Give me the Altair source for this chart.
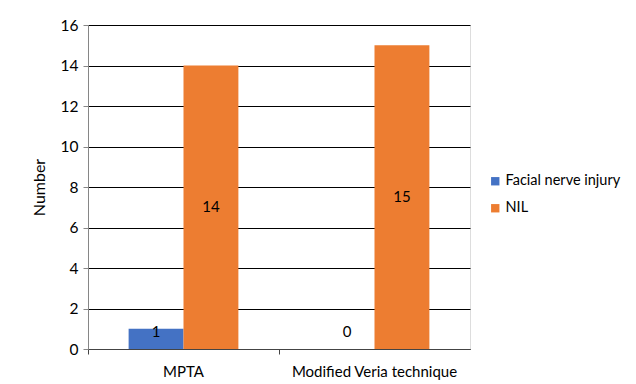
import altair as alt
import pandas as pd

categories = ["MPTA", "Modified Veria technique"]
series = ["Facial nerve injury", "NIL"]
facial_nerve_injury = [1, 0]
nil = [14, 15]
colors = ["#4472C4", "#ED7D31"]

rows = []
for i, c in enumerate(categories):
    for s, vals in zip(series, [facial_nerve_injury, nil]):
        v = vals[i]
        rows.append({"cat": c, "series": s, "value": v, "labelpos": max(v / 2, 0.82)})
df = pd.DataFrame(rows)

FONT = "Lato"

base = alt.Chart(df).encode(
    x=alt.X("cat:N", sort=categories, title=None,
            scale=alt.Scale(paddingInner=0, paddingOuter=0),
            axis=alt.Axis(labelAngle=0, bandPosition=0, tickSize=5, labelPadding=10,
                          labelFontSize=15, labelColor="#000000", domainColor="#444444",
                          tickColor="#444444", labelFont=FONT)),
    xOffset=alt.XOffset("series:N", sort=series,
                        scale=alt.Scale(paddingInner=0, paddingOuter=0.74)),
)

bars = base.mark_bar().encode(
    y=alt.Y("value:Q", title="Number",
            scale=alt.Scale(domain=[0, 16], nice=False),
            axis=alt.Axis(values=list(range(0, 17, 2)), grid=True, gridColor="#000000",
                          gridWidth=1, tickSize=5, labelPadding=5, labelFontSize=15.5,
                          labelColor="#000000", domainColor="#868686", tickColor="#868686",
                          titleFontSize=16, titleFontWeight="normal", titleColor="#000000",
                          titlePadding=13, labelFont=FONT, titleFont=FONT)),
    color=alt.Color("series:N", sort=series,
                    scale=alt.Scale(domain=series, range=colors),
                    legend=alt.Legend(title=None, orient="none", legendX=400, legendY=149,
                                      symbolType="square", symbolSize=70, labelFontSize=14.5,
                                      labelColor="#000000", rowPadding=12, labelFont=FONT,
                                      symbolStrokeWidth=0, labelOffset=3, labelLimit=200)),
)

labels = base.mark_text(fontSize=15, color="#000000", font=FONT).encode(
    y=alt.Y("labelpos:Q"),
    text=alt.Text("value:Q"),
)

chart = (bars + labels).properties(
    width=382, height=324,
    autosize=alt.AutoSizeParams(type="none"),
    padding={"left": 80, "top": 17, "right": 156, "bottom": 32},
).configure_view(stroke=None).configure(background="white")

chart.save("out.html", embed_options={"renderer": "svg", "actions": False})
